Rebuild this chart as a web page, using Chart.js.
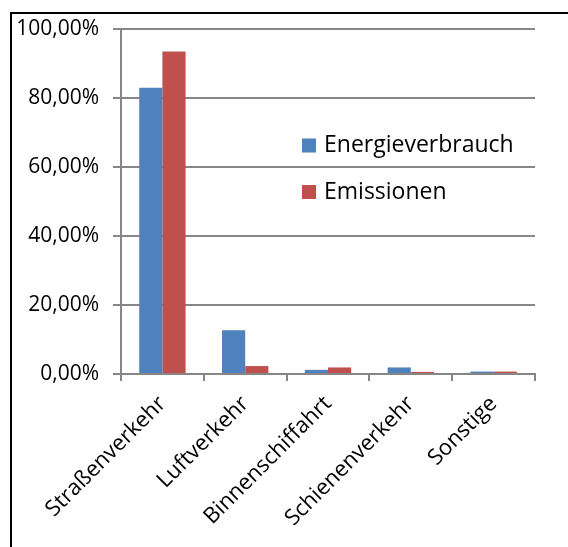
<!DOCTYPE html>
<html>
<head>
<meta charset="utf-8">
<script src="https://cdn.jsdelivr.net/npm/chart.js@4.4.1/dist/chart.umd.min.js"></script>
<style>
  html, body { margin: 0; padding: 0; background: #fff; }
  #frame { position: absolute; left: 10px; top: 12px; width: 700px; height: 700px;
           border-left: 2px solid #000; border-top: 2px solid #000; }
  #c { position: absolute; left: 0; top: 0; }
</style>
</head>
<body>
<div id="frame"></div>
<canvas id="c" width="568" height="547"></canvas>
<script>
// Anteile am Verkehrssektor (in %)
const categories = ['Straßenverkehr', 'Luftverkehr', 'Binnenschiffahrt', 'Schienenverkehr', 'Sonstige'];
const energieverbrauch = [83.0, 12.7, 1.2, 1.9, 0.7];
const emissionen = [93.5, 2.3, 1.9, 0.6, 0.7];
const seriesNames = ['Energieverbrauch', 'Emissionen'];
const seriesColors = ['#4F81BD', '#C0504D'];
const yTicks = [0, 20, 40, 60, 80, 100];

const FONT = 'Open Sans';
const AXIS_GRAY = '#868686';

// Legend drawn inside the plot, stacked vertically
const insideLegend = {
  id: 'insideLegend',
  afterDraw(chart) {
    const ctx = chart.ctx;
    ctx.save();
    ctx.font = '23px "' + FONT + '"';
    ctx.textBaseline = 'middle';
    ctx.textAlign = 'left';
    chart.data.datasets.forEach((ds, i) => {
      const y = 145.5 + i * 46.5;
      ctx.fillStyle = ds.backgroundColor;
      ctx.fillRect(302, y - 7, 14, 14);
      ctx.fillStyle = '#000';
      ctx.fillText(ds.label, 324, y);
    });
    ctx.restore();
  }
};

new Chart(document.getElementById('c'), {
  type: 'bar',
  data: {
    labels: categories,
    datasets: [
      { label: seriesNames[0], data: energieverbrauch, backgroundColor: seriesColors[0] },
      { label: seriesNames[1], data: emissionen, backgroundColor: seriesColors[1] }
    ]
  },
  options: {
    responsive: false,
    animation: false,
    devicePixelRatio: 1,
    categoryPercentage: 0.56,
    barPercentage: 1.0,
    layout: { padding: { left: 0, right: 33, top: 29, bottom: 0 } },
    plugins: { legend: { display: false }, tooltip: { enabled: false } },
    scales: {
      x: {
        offset: true,
        grid: { display: true, drawOnChartArea: false, drawTicks: true, tickLength: 7, color: AXIS_GRAY, lineWidth: 2 },
        border: { display: true, color: AXIS_GRAY, width: 2 },
        ticks: { minRotation: 45, maxRotation: 45, color: '#000', padding: 10, font: { family: FONT, size: 22 } },
        afterFit(scale) { scale.height = 547 - 374; }
      },
      y: {
        min: 0,
        max: 100,
        afterBuildTicks(scale) { scale.ticks = yTicks.map(v => ({ value: v })); },
        grid: { color: AXIS_GRAY, lineWidth: 2, tickLength: 8 },
        border: { display: true, color: AXIS_GRAY, width: 2 },
        ticks: {
          color: '#000',
          padding: 14,
          font: { family: FONT, size: 21 },
          callback: v => v.toFixed(2).replace('.', ',') + '%'
        },
        afterFit(scale) { scale.width = 121; }
      }
    }
  },
  plugins: [insideLegend]
});
</script>
</body>
</html>
